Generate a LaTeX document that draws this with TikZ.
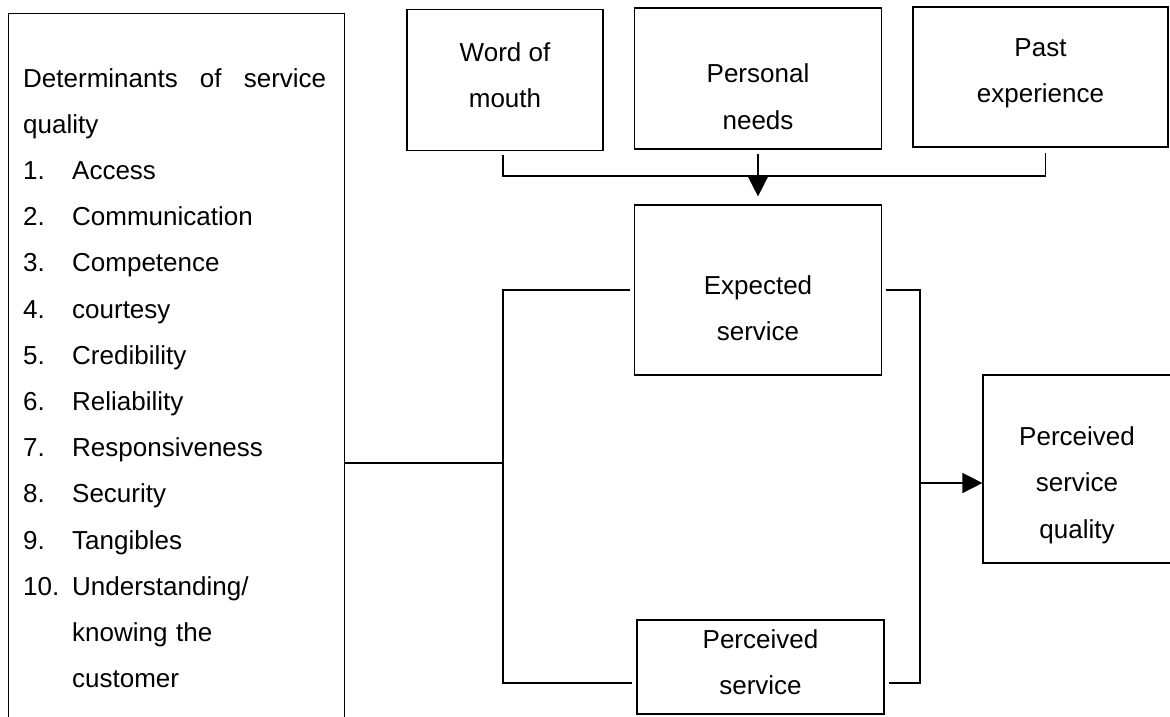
\documentclass[tikz,border=0pt]{standalone}
\usepackage{fontspec}
\setmainfont{Liberation Sans}
\usetikzlibrary{arrows.meta}
\newcommand{\listnum}[1]{\makebox[49pt][l]{#1}}
\tikzset{
  boxed/.style={draw, line width=1.2pt, inner sep=0pt},
  txt/.style={align=center, font=\fontsize{26}{46.5}\selectfont},
  link/.style={line width=1.5pt},
  tip/.style={-{Triangle[length=20pt,width=20pt]}}
}
\begin{document}
\begin{tikzpicture}[x=1pt,y=-1pt]
        \useasboundingbox (0,0) rectangle (1170,716);
        \clip (0,0) rectangle (1170,716);
        % determinants box
        \node[boxed, anchor=north west, minimum width=336pt, minimum height=740pt] (det) at (8,13) {};
        \node[anchor=north west, inner sep=0pt, text width=305pt, align=left, font=\fontsize{26}{46.2}\selectfont] (detlist) at (23,68) {%
                \noindent\makebox[303pt][s]{Determinants\hfill of\hfill service}\\
                quality\\
                \listnum{1.}Access\\
                \listnum{2.}Communication\\
                \listnum{3.}Competence\\
                \listnum{4.}courtesy\\
                \listnum{5.}Credibility\\
                \listnum{6.}Reliability\\
                \listnum{7.}Responsiveness\\
                \listnum{8.}Security\\
                \listnum{9.}Tangibles\\
                \listnum{10.}Understanding/\\
                \listnum{}knowing the\\
                \listnum{}customer};
        % top row
        \node[boxed, minimum width=196pt, minimum height=141pt, label={[txt, yshift=5pt]center:Word of\\mouth}] (wom) at (505,80) {};
        \node[boxed, minimum width=247pt, minimum height=141pt, label={[txt, yshift=-18pt]center:Personal\\needs}] (pneeds) at (758,78.5) {};
        \node[boxed, minimum width=255pt, minimum height=140pt, label={[txt, yshift=4pt]center:Past\\experience}] (past) at (1040.5,77) {};
        % middle column
        \node[boxed, minimum width=247pt, minimum height=170pt, label={[txt, yshift=-18pt]center:Expected\\service}] (expected) at (758,290) {};
        \node[boxed, minimum width=247pt, minimum height=94pt, label={[txt, yshift=5pt]center:Perceived\\service}] (pserv) at (760.5,667) {};
        \node[boxed, minimum width=188pt, minimum height=188pt, label={[txt, yshift=-16pt]center:Perceived\\service\\quality}] (psq) at (1077,469) {};
        % connectors
        \coordinate (bus) at (758,176);
        \coordinate (split) at (503,463);
        \coordinate (join) at (920,483);
        \draw[link] ([xshift=-2pt,yshift=-4pt]wom.south) |- (bus) -| ([xshift=5pt,yshift=-5pt]past.south);
        \draw[link, tip] ([yshift=-4pt]pneeds.south) -- ([yshift=8pt]expected.north);
        \draw[link] (det.east |- split) -- (split);
        \draw[link] ([xshift=-4pt]expected.west) -| (split) |- ([xshift=-4pt,yshift=-16pt]pserv.west);
        \draw[link] ([xshift=4pt]expected.east) -| (join) |- ([xshift=4pt,yshift=-16pt]pserv.east);
        \draw[link, tip] (join) -- (psq.west |- join);
\end{tikzpicture}
\end{document}
